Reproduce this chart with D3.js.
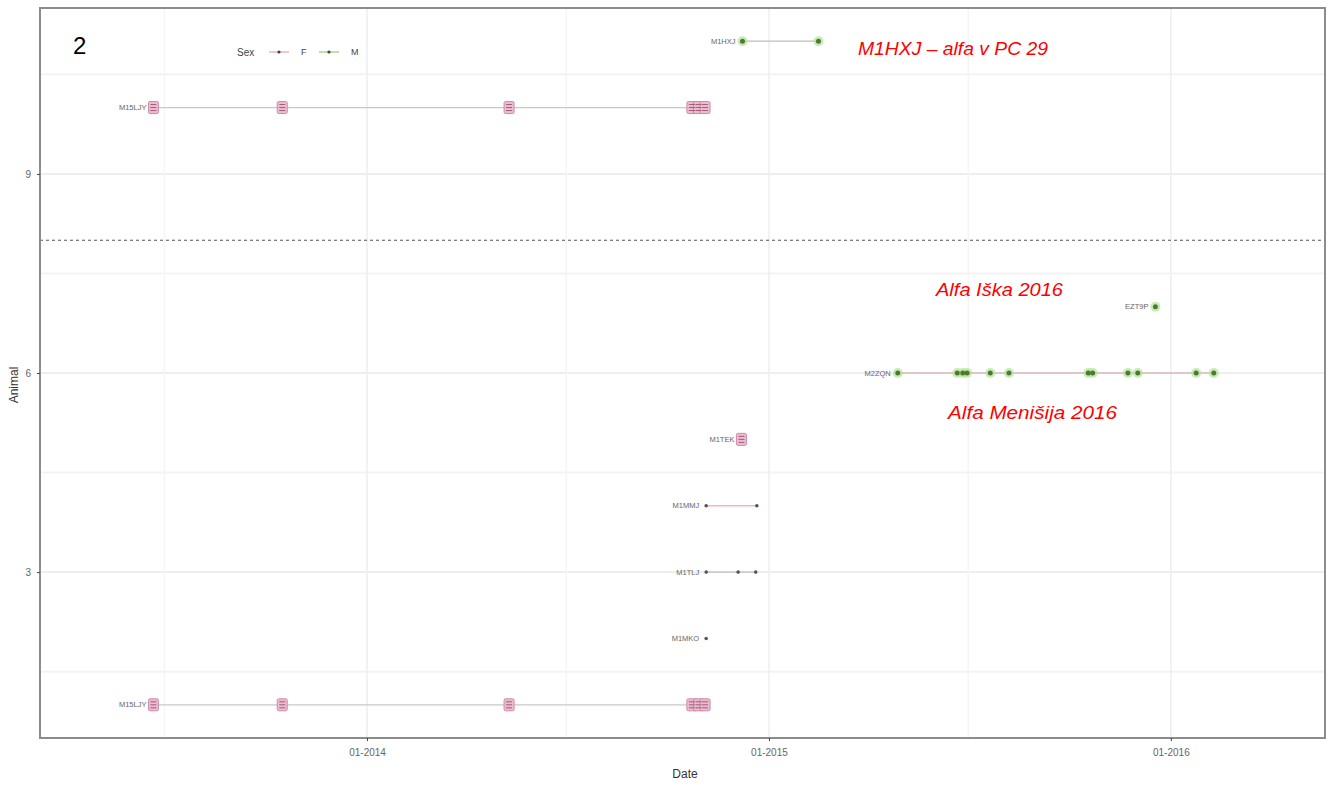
<!DOCTYPE html>
<html>
<head>
<meta charset="utf-8">
<script src="https://cdn.jsdelivr.net/npm/d3@7"></script>
<style>
  html, body { margin: 0; padding: 0; background: #fff; }
  svg { display: block; font-family: "Liberation Sans", Arial, sans-serif; }
</style>
</head>
<body>
<svg id="chart" width="1337" height="785"></svg>
<script>
// animals, one per row of the plot
var animalIds = ["A1", "A2", "A3", "A4", "A5", "A6", "A7", "A10", "A11"];
var animalNames = ["M15LJY", "M1MKO", "M1TLJ", "M1MMJ", "M1TEK", "M2ZQN", "EZT9P", "M15LJY", "M1HXJ"];
var animalRows = [1, 2, 3, 4, 5, 6, 7, 10, 11];
var animalSex = ["F", "M", "M", "F", "F", "M", "M", "F", "M"];
var animalMarker = ["box", "small", "small", "small", "box", "dot", "dot", "box", "dot"];
var lineColors = ["#c8c8c8", "#c8c8c8", "#b9bfd0", "#f0b4c4", "#c8c8c8", "#d9b8c0", "#c8c8c8", "#c8c8c8", "#bdbdbd"];

// observation dates per animal
var obsAnimal = [
  "A1", "A1", "A1", "A1", "A1", "A1",
  "A2",
  "A3", "A3", "A3",
  "A4", "A4",
  "A5",
  "A6", "A6", "A6", "A6", "A6", "A6", "A6", "A6", "A6", "A6", "A6", "A6",
  "A7",
  "A10", "A10", "A10", "A10", "A10", "A10",
  "A11", "A11"
];
var obsDate = [
  "2013-06-21", "2013-10-16", "2014-05-10", "2014-10-23", "2014-10-29", "2014-11-04",
  "2014-11-05",
  "2014-11-05", "2014-12-04", "2014-12-20",
  "2014-11-05", "2014-12-21",
  "2014-12-07",
  "2015-04-28", "2015-06-21", "2015-06-26", "2015-06-30", "2015-07-21", "2015-08-07",
  "2015-10-18", "2015-10-22", "2015-11-23", "2015-12-02", "2016-01-24", "2016-02-09",
  "2015-12-18",
  "2013-06-21", "2013-10-16", "2014-05-10", "2014-10-23", "2014-10-29", "2014-11-04",
  "2014-12-08", "2015-02-15"
];

var xTicks = ["2014-01-01", "2015-01-01", "2016-01-01"];
var xMinor = ["2013-07-01", "2014-07-01", "2015-07-01"];
var yTicks = [3, 6, 9];
var yMinor = [1.5, 4.5, 7.5, 10.5];
var dividerRow = 8;

var parse = d3.utcParse("%Y-%m-%d");
var fmt = d3.utcFormat("%m-%Y");

var svg = d3.select("#chart");
var panel = { left: 40, right: 1325, top: 8, bottom: 738 };

var x = d3.scaleUtc()
  .domain([parse("2013-03-10"), parse("2016-05-20")])
  .range([panel.left, panel.right]);
var y = d3.scaleLinear()
  .domain([0.5, 11.5])
  .range([panel.bottom, panel.top]);

// grid
var grid = svg.append("g");
grid.selectAll("line.minor-y").data(yMinor).join("line")
  .attr("x1", panel.left).attr("x2", panel.right)
  .attr("y1", function (d) { return y(d); }).attr("y2", function (d) { return y(d); })
  .attr("stroke", "#f3f3f3").attr("stroke-width", 2);
grid.selectAll("line.major-y").data(yTicks).join("line")
  .attr("x1", panel.left).attr("x2", panel.right)
  .attr("y1", function (d) { return y(d); }).attr("y2", function (d) { return y(d); })
  .attr("stroke", "#eeeeee").attr("stroke-width", 2);
grid.selectAll("line.minor-x").data(xMinor).join("line")
  .attr("x1", function (d) { return x(parse(d)); }).attr("x2", function (d) { return x(parse(d)); })
  .attr("y1", panel.top).attr("y2", panel.bottom)
  .attr("stroke", "#f5f5f5").attr("stroke-width", 1.5);
grid.selectAll("line.major-x").data(xTicks).join("line")
  .attr("x1", function (d) { return x(parse(d)); }).attr("x2", function (d) { return x(parse(d)); })
  .attr("y1", panel.top).attr("y2", panel.bottom)
  .attr("stroke", "#eeeeee").attr("stroke-width", 1.5);

// dashed divider
svg.append("line")
  .attr("x1", panel.left).attr("x2", panel.right)
  .attr("y1", y(dividerRow)).attr("y2", y(dividerRow))
  .attr("stroke", "#555").attr("stroke-width", 1.2)
  .attr("stroke-dasharray", "3,3");

// per animal lines
var byAnimal = d3.group(obsAnimal.map(function (a, i) {
  return { id: a, date: parse(obsDate[i]) };
}), function (d) { return d.id; });

var rows = animalIds.map(function (id, i) {
  var pts = byAnimal.get(id) || [];
  return {
    id: id, name: animalNames[i], row: animalRows[i], sex: animalSex[i],
    marker: animalMarker[i], lineColor: lineColors[i],
    first: d3.min(pts, function (p) { return p.date; }),
    last: d3.max(pts, function (p) { return p.date; }),
    pts: pts
  };
});

var marks = svg.append("g");
marks.selectAll("line.span").data(rows).join("line")
  .attr("x1", function (d) { return x(d.first); })
  .attr("x2", function (d) { return x(d.last); })
  .attr("y1", function (d) { return y(d.row); })
  .attr("y2", function (d) { return y(d.row); })
  .attr("stroke", function (d) { return d.lineColor; })
  .attr("stroke-width", 1.3);

marks.selectAll("text.name").data(rows).join("text")
  .attr("x", function (d) { return x(d.first) - 7; })
  .attr("y", function (d) { return y(d.row); })
  .attr("dy", "0.35em")
  .attr("text-anchor", "end")
  .attr("font-size", 7.5)
  .attr("fill", "#666")
  .text(function (d) { return d.name; });

rows.forEach(function (r) {
  var g = marks.append("g");
  if (r.marker === "box") {
    g.selectAll("rect").data(r.pts).join("rect")
      .attr("x", function (p) { return x(p.date) - 5; })
      .attr("y", y(r.row) - 6)
      .attr("width", 10).attr("height", 12)
      .attr("rx", 1.5)
      .attr("fill", "#ebbdd0")
      .attr("stroke", "#d08aa8").attr("stroke-width", 1);
    g.selectAll("path").data(r.pts).join("path")
      .attr("d", function (p) {
        var cx = x(p.date), cy = y(r.row);
        return "M" + (cx - 3) + " " + (cy - 3) + "h6M" + (cx - 3) + " " + cy + "h6M" + (cx - 3) + " " + (cy + 3) + "h6";
      })
      .attr("stroke", "#a35a7d").attr("stroke-width", 1);
  } else if (r.marker === "small") {
    g.selectAll("circle").data(r.pts).join("circle")
      .attr("cx", function (p) { return x(p.date); })
      .attr("cy", y(r.row))
      .attr("r", 1.8)
      .attr("fill", "#555");
  } else {
    g.selectAll("circle.halo").data(r.pts).join("circle")
      .attr("cx", function (p) { return x(p.date); })
      .attr("cy", y(r.row))
      .attr("r", 5)
      .attr("fill", "#b5e59a")
      .attr("opacity", 0.75);
    g.selectAll("circle.dot").data(r.pts).join("circle")
      .attr("cx", function (p) { return x(p.date); })
      .attr("cy", y(r.row))
      .attr("r", 2.5)
      .attr("fill", "#4c7a36");
  }
});

// panel border
svg.append("rect")
  .attr("x", panel.left).attr("y", panel.top)
  .attr("width", panel.right - panel.left).attr("height", panel.bottom - panel.top)
  .attr("fill", "none").attr("stroke", "#8c8c8c").attr("stroke-width", 2);

// axes
var xAxis = svg.append("g")
  .attr("transform", "translate(0," + panel.bottom + ")")
  .call(d3.axisBottom(x).tickValues(xTicks.map(parse)).tickFormat(fmt).tickSize(3).tickPadding(8));
xAxis.select(".domain").remove();
xAxis.selectAll("line").attr("stroke", "#444");
xAxis.selectAll("text").attr("fill", "#666").attr("font-size", 10);

var yAxis = svg.append("g")
  .attr("transform", "translate(" + panel.left + ",0)")
  .call(d3.axisLeft(y).tickValues(yTicks).tickFormat(d3.format("d")).tickSize(3).tickPadding(6));
yAxis.select(".domain").remove();
yAxis.selectAll("line").attr("stroke", "#444");
yAxis.selectAll("text").attr("fill", "#666").attr("font-size", 10);

svg.append("text")
  .attr("x", 685).attr("y", 778)
  .attr("text-anchor", "middle")
  .attr("font-size", 12).attr("fill", "#333")
  .text("Date");
svg.append("text")
  .attr("transform", "translate(18,385) rotate(-90)")
  .attr("text-anchor", "middle")
  .attr("font-size", 12).attr("fill", "#333")
  .text("Animal");

// legend
var legend = svg.append("g").attr("transform", "translate(237,52)");
legend.append("text").attr("x", 0).attr("y", 0).attr("dy", "0.35em")
  .attr("font-size", 10).attr("fill", "#444").text("Sex");
var legendKeys = ["F", "M"];
var legendCols = ["#e88aa8", "#7cc45a"];
legendKeys.forEach(function (k, i) {
  var ox = 32 + i * 50;
  legend.append("line").attr("x1", ox).attr("x2", ox + 20).attr("y1", 0).attr("y2", 0)
    .attr("stroke", legendCols[i]).attr("stroke-width", 1);
  legend.append("circle").attr("cx", ox + 10).attr("cy", 0).attr("r", 1.6).attr("fill", "#444");
  legend.append("text").attr("x", ox + 32).attr("y", 0).attr("dy", "0.35em")
    .attr("font-size", 9).attr("fill", "#444").text(k);
});

// annotations
svg.append("text").attr("x", 73).attr("y", 54)
  .attr("font-size", 24).attr("fill", "#000").text("2");

var notes = ["M1HXJ \u2013 alfa v PC 29", "Alfa I\u0161ka 2016", "Alfa Meni\u0161ija 2016"];
var noteX = [858, 936, 948];
var noteY = [55, 296, 419];
var noteW = [190, 127, 169];
svg.selectAll("text.note").data(notes).join("text")
  .attr("class", "note")
  .attr("x", function (d, i) { return noteX[i]; })
  .attr("y", function (d, i) { return noteY[i]; })
  .attr("textLength", function (d, i) { return noteW[i]; })
  .attr("lengthAdjust", "spacingAndGlyphs")
  .attr("font-size", 19)
  .attr("font-style", "italic")
  .attr("fill", "#ff0000")
  .text(function (d) { return d; });
</script>
</body>
</html>
